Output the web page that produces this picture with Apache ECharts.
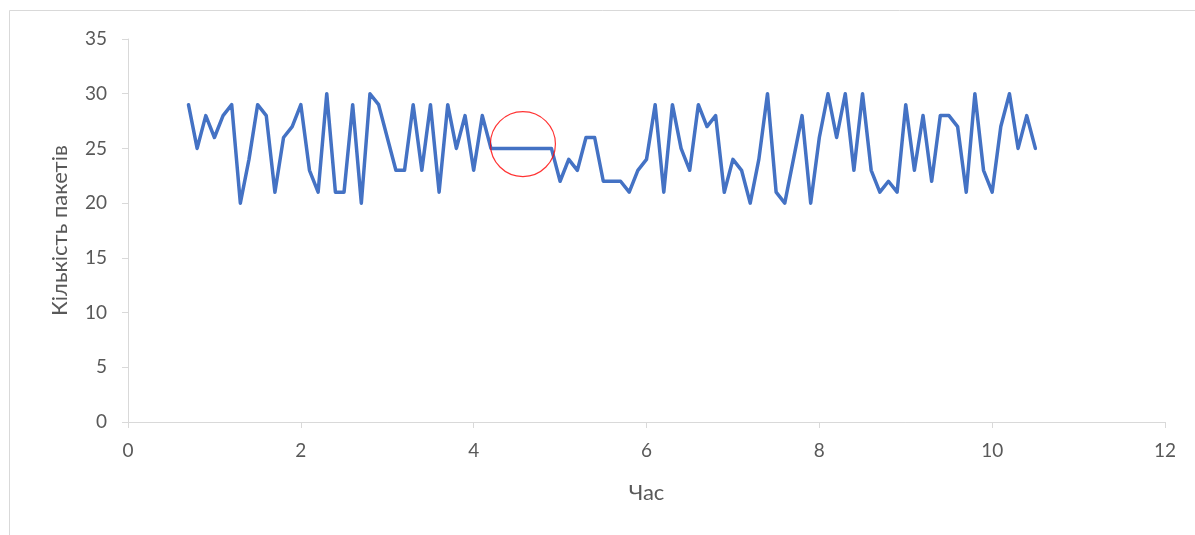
<!DOCTYPE html>
<html>
<head>
<meta charset="utf-8">
<script src="https://cdn.jsdelivr.net/npm/echarts@6/dist/echarts.min.js"></script>
<style>
  html, body { margin: 0; padding: 0; background: #fff; }
  #chart { width: 1195px; height: 535px; }
</style>
</head>
<body>
<div id="chart"></div>
<script>
// Time (hours) for each packet-count sample
const hours = [
  0.7, 0.8, 0.9, 1.0, 1.1, 1.2, 1.3, 1.4, 1.5, 1.6,
  1.7, 1.8, 1.9, 2.0, 2.1, 2.2, 2.3, 2.4, 2.5, 2.6,
  2.7, 2.8, 2.9, 3.0, 3.1, 3.2, 3.3, 3.4, 3.5, 3.6,
  3.7, 3.8, 3.9, 4.0, 4.1, 4.2, 4.3, 4.4, 4.5, 4.6,
  4.7, 4.8, 4.9, 5.0, 5.1, 5.2, 5.3, 5.4, 5.5, 5.6,
  5.7, 5.8, 5.9, 6.0, 6.1, 6.2, 6.3, 6.4, 6.5, 6.6,
  6.7, 6.8, 6.9, 7.0, 7.1, 7.2, 7.3, 7.4, 7.5, 7.6,
  7.7, 7.8, 7.9, 8.0, 8.1, 8.2, 8.3, 8.4, 8.5, 8.6,
  8.7, 8.8, 8.9, 9.0, 9.1, 9.2, 9.3, 9.4, 9.5, 9.6,
  9.7, 9.8, 9.9, 10.0, 10.1, 10.2, 10.3, 10.4, 10.5
];

// Number of packets per sample
const packets = [
  29, 25, 28, 26, 28, 29, 20, 24, 29, 28,
  21, 26, 27, 29, 23, 21, 30, 21, 21, 29,
  20, 30, 29, 26, 23, 23, 29, 23, 29, 21,
  29, 25, 28, 23, 28, 25, 25, 25, 25, 25,
  25, 25, 25, 22, 24, 23, 26, 26, 22, 22,
  22, 21, 23, 24, 29, 21, 29, 25, 23, 29,
  27, 28, 21, 24, 23, 20, 24, 30, 21, 20,
  24, 28, 20, 26, 30, 26, 30, 23, 30, 23,
  21, 22, 21, 29, 23, 28, 22, 28, 28, 27,
  21, 30, 23, 21, 27, 30, 25, 28, 25
];

// Highlighted region (flat segment) marked with a circle
const highlightCenter = [4.57, 25.4];

const xTicks = { min: 0, max: 12, interval: 2 };
const yTicks = { min: 0, max: 35, interval: 5 };

const lineData = hours.map((h, i) => [h, packets[i]]);

const chart = echarts.init(document.getElementById('chart'), null, { renderer: 'canvas' });

const labelFont = 'Lato, "Noto Sans", "DejaVu Sans", sans-serif';

chart.setOption({
  backgroundColor: '#ffffff',
  animation: false,
  graphic: [{
    type: 'rect',
    shape: { x: 9.5, y: 10.5, width: 1300, height: 700 },
    style: { fill: 'none', stroke: '#d9d9d9', lineWidth: 1 },
    silent: true,
    z: -10
  }],
  grid: { left: 128, right: 30, top: 39, bottom: 113, containLabel: false },
  xAxis: {
    type: 'value',
    min: xTicks.min, max: xTicks.max, interval: xTicks.interval,
    name: 'Час',
    nameLocation: 'middle',
    nameGap: 60,
    nameTextStyle: { color: '#595959', fontSize: 22, fontFamily: labelFont },
    axisLine: { show: true, lineStyle: { color: '#d9d9d9', width: 1 } },
    axisTick: { show: true, length: 6, inside: false, lineStyle: { color: '#d9d9d9' } },
    axisLabel: { color: '#595959', fontSize: 19, fontFamily: labelFont, margin: 19 },
    splitLine: { show: false }
  },
  yAxis: {
    type: 'value',
    min: yTicks.min, max: yTicks.max, interval: yTicks.interval,
    name: 'Кількість пакетів',
    nameLocation: 'middle',
    nameGap: 57,
    nameTextStyle: { color: '#595959', fontSize: 22, fontFamily: labelFont },
    axisLine: { show: true, lineStyle: { color: '#d9d9d9', width: 1 } },
    axisTick: { show: true, length: 6, inside: false, lineStyle: { color: '#d9d9d9' } },
    axisLabel: { color: '#595959', fontSize: 19, fontFamily: labelFont, margin: 21 },
    splitLine: { show: false }
  },
  series: [
    {
      type: 'line',
      data: lineData,
      showSymbol: false,
      symbol: 'none',
      lineStyle: { color: '#4472C4', width: 3.5, join: 'round', cap: 'round' },
      itemStyle: { color: '#4472C4' },
      z: 2
    },
    {
      type: 'scatter',
      data: [highlightCenter],
      symbol: 'circle',
      symbolSize: 65,
      itemStyle: { color: 'rgba(0,0,0,0)', borderColor: '#ff0000', borderWidth: 1.2 },
      silent: true,
      z: 3
    }
  ]
});
</script>
</body>
</html>
